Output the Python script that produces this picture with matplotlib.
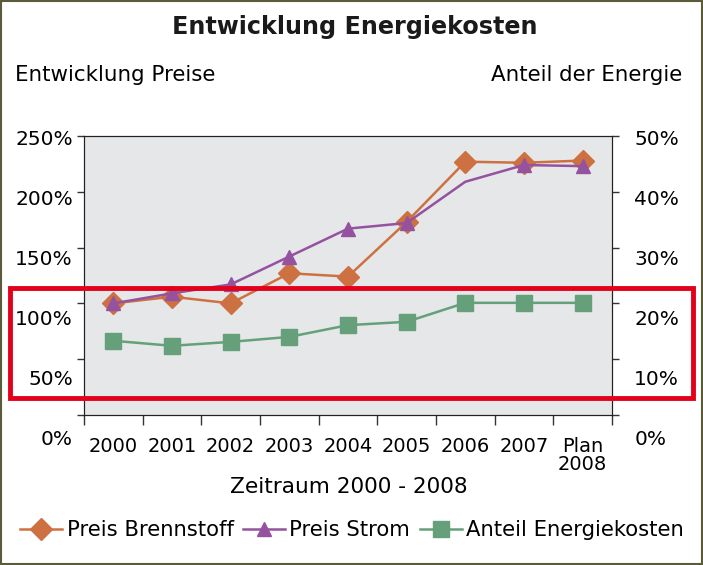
import matplotlib
matplotlib.use("Agg")
import matplotlib.pyplot as plt
from matplotlib.patches import Rectangle

# data
jahre = ["2000", "2001", "2002", "2003", "2004", "2005", "2006", "2007", "Plan\n2008"]
preis_brennstoff = [100, 106, 100, 127, 124, 173, 227, 226, 228]
preis_strom = [100, 109, 117, 142, 167, 172, 209, 224, 223]
anteil_energie = [13.3, 12.4, 13.1, 14.0, 16.1, 16.7, 20.1, 20.1, 20.1]

links_ticks = [0, 50, 100, 150, 200, 250]
rechts_ticks = [0, 10, 20, 30, 40, 50]

orange = "#CD7142"
lila = "#94529F"
gruen = "#65A07A"
hintergrund = "#E6E7E9"

plt.rcParams["font.family"] = "DejaVu Sans"

fig = plt.figure(figsize=(7.03, 5.65), dpi=100)
ax = fig.add_axes([0.1195, 0.2655, 0.751, 0.4938])
ax.set_facecolor(hintergrund)
ax2 = ax.twinx()

x = list(range(len(jahre)))

# lines (no triangle visible at 2006 in the original)
l1, = ax.plot(x, preis_brennstoff, color=orange, lw=1.8, marker="D", ms=11,
              label="Preis Brennstoff", zorder=3)
l2, = ax.plot(x, preis_strom, color=lila, lw=1.8, marker="^", ms=10,
              markevery=[0, 1, 2, 3, 4, 5, 7, 8], label="Preis Strom", zorder=4)
l3, = ax2.plot(x, anteil_energie, color=gruen, lw=1.8, marker="s", ms=11,
               label="Anteil Energiekosten")

ax.set_xlim(-0.5, len(jahre) - 0.5)
ax.set_ylim(0, 250)
ax2.set_ylim(0, 50)

# tick marks on the axes, labels drawn on separate axes (labels sit lower)
ax.set_yticks(links_ticks)
ax.set_yticklabels([])
ax2.set_yticks(rechts_ticks)
ax2.set_yticklabels([])
ax.tick_params(axis="y", direction="out", length=5, width=1, color="#333333")
ax2.tick_params(axis="y", direction="out", length=5, width=1, color="#333333")

ax.set_xticks([i - 0.5 for i in range(len(jahre) + 1)])
ax.set_xticklabels([])
ax.set_xticks(x, minor=True)
ax.set_xticklabels(jahre, minor=True, fontsize=14, va="top", linespacing=0.95)
ax.tick_params(axis="x", which="major", direction="out", length=7, width=1, color="#333333")
ax.tick_params(axis="x", which="minor", length=0, pad=16)

for s in ax.spines.values():
    s.set_color("#222222")
for s in ax2.spines.values():
    s.set_color("#222222")

# label axes for the percent labels
lab = fig.add_axes([0.1195, 0.2248, 0.751, 0.5327])
lab.patch.set_visible(False)
for s in lab.spines.values():
    s.set_visible(False)
lab.set_xticks([])
lab.set_ylim(0, 250)
lab.set_yticks(links_ticks)
lab.set_yticklabels([f"{v}%" for v in links_ticks], fontsize=14.5)
lab.tick_params(axis="y", length=0, pad=8)
lab2 = lab.twinx()
for s in lab2.spines.values():
    s.set_visible(False)
lab2.set_ylim(0, 50)
lab2.set_yticks(rechts_ticks)
lab2.set_yticklabels([f"{v}%" for v in rechts_ticks], fontsize=14.5)
lab2.tick_params(axis="y", length=0, pad=16)

# texts
fig.text(0.505, 1 - 27 / 565, "Entwicklung Energiekosten", ha="center", va="center",
         fontsize=17.2, fontweight="bold", color="#1a1a1a")
fig.text(15 / 703, 1 - 75 / 565, "Entwicklung Preise", ha="left", va="center", fontsize=15.4)
fig.text(682 / 703, 1 - 75 / 565, "Anteil der Energie", ha="right", va="center", fontsize=15.4)
fig.text(349 / 703, 1 - 487 / 565, "Zeitraum 2000 - 2008", ha="center", va="center",
         fontsize=15.6)

fig.legend(handles=[l1, l2, l3], loc="center", bbox_to_anchor=(352 / 703, 1 - 530 / 565),
           ncol=3, frameon=False, fontsize=15.2, handlelength=2.0, handletextpad=0.2,
           columnspacing=0.45, borderaxespad=0)

# frame around the figure and the red highlight box
fig.patches.append(Rectangle((0.001, 0.002), 0.998, 0.996, transform=fig.transFigure,
                             fill=False, edgecolor="#5b5b3a", lw=1.5))
fig.patches.append(Rectangle((10 / 703, 1 - 398 / 565), 683 / 703, 110 / 565,
                             transform=fig.transFigure, fill=False,
                             edgecolor="#E2001A", lw=3.5, zorder=10))

fig.savefig("out.png", dpi=100)
